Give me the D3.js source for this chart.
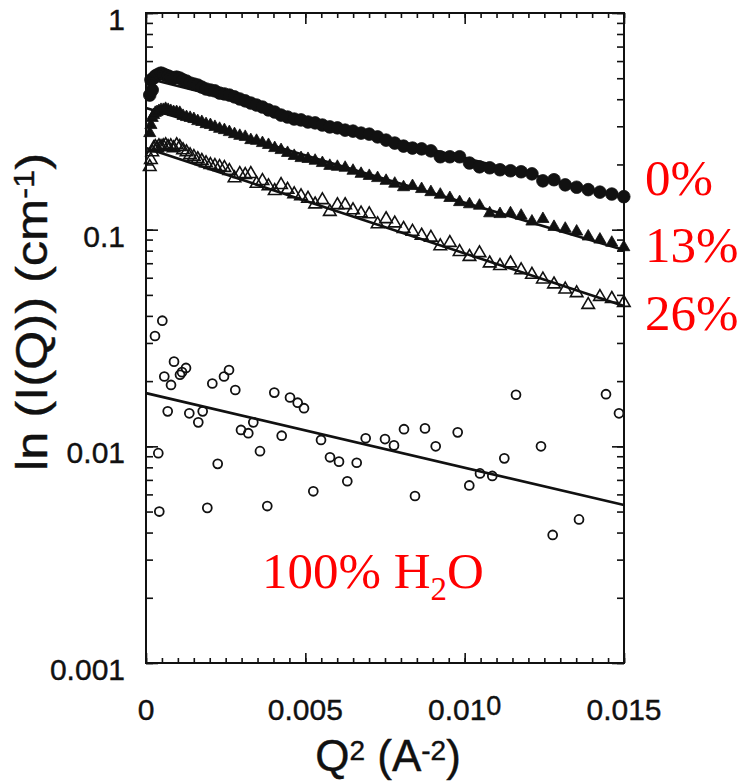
<!DOCTYPE html>
<head>
<meta charset="utf-8">
<title>ln I(Q) vs Q^2</title>
<script src="https://d3js.org/d3.v7.min.js"></script>
<style>
  body{margin:0;background:#fff;}
  text{font-family:'Liberation Sans',Arial,Helvetica,sans-serif;fill:#111;stroke:#111;stroke-width:0.4px;}
  .red{font-family:'Liberation Serif','Times New Roman',serif;fill:#ff0000;stroke:none;}
</style>
</head>
<body>
<script>
// Q^2 grid shared by the three contrast series (A^-2)
var q2 = [0.000118, 0.000154, 0.000195, 0.000240, 0.000291, 0.000346, 0.000406, 0.000471, 0.000541, 0.000615,
          0.000694, 0.000778, 0.000867, 0.000961, 0.001060, 0.001163, 0.001271, 0.001384, 0.001502, 0.001624,
          0.001751, 0.001884, 0.002021, 0.002162, 0.002309, 0.002460, 0.002616, 0.002777, 0.002943, 0.003114,
          0.003289, 0.003469, 0.003654, 0.003844, 0.004039, 0.004238, 0.004442, 0.004651, 0.004865, 0.005084,
          0.005307, 0.005535, 0.005768, 0.006006, 0.006249, 0.006496, 0.006749, 0.007006, 0.007268, 0.007534,
          0.007806, 0.008082, 0.008363, 0.008649, 0.008940, 0.009235, 0.009535, 0.009841, 0.010151, 0.010465,
          0.010785, 0.011109, 0.011438, 0.011772, 0.012111, 0.012455, 0.012803, 0.013156, 0.013514, 0.013877,
          0.014244, 0.014617, 0.014994];

// 0% (filled circles)
var i0 = [0.418, 0.491, 0.441, 0.501, 0.512, 0.517, 0.523, 0.528, 0.523, 0.517,
          0.512, 0.506, 0.501, 0.506, 0.501, 0.491, 0.485, 0.475, 0.470, 0.465,
          0.455, 0.446, 0.441, 0.437, 0.427, 0.423, 0.418, 0.410, 0.401, 0.393,
          0.384, 0.376, 0.368, 0.357, 0.349, 0.338, 0.331, 0.324, 0.321, 0.314,
          0.311, 0.304, 0.298, 0.295, 0.288, 0.285, 0.279, 0.276, 0.268, 0.259,
          0.251, 0.243, 0.238, 0.236, 0.231, 0.217, 0.217, 0.217, 0.203, 0.195,
          0.193, 0.189, 0.187, 0.185, 0.181, 0.168, 0.170, 0.161, 0.157, 0.153,
          0.149, 0.146, 0.142];

// 13% (filled triangles)
var i13 = [0.279, 0.304, 0.328, 0.338, 0.346, 0.349, 0.353, 0.357, 0.357, 0.361,
           0.357, 0.353, 0.349, 0.349, 0.346, 0.335, 0.331, 0.328, 0.324, 0.317,
           0.314, 0.307, 0.304, 0.298, 0.292, 0.288, 0.282, 0.276, 0.271, 0.268,
           0.259, 0.257, 0.251, 0.246, 0.238, 0.233, 0.226, 0.219, 0.214, 0.212,
           0.208, 0.203, 0.197, 0.195, 0.193, 0.187, 0.181, 0.177, 0.173, 0.168,
           0.163, 0.157, 0.159, 0.154, 0.149, 0.145, 0.140, 0.134, 0.131, 0.129,
           0.119, 0.118, 0.119, 0.116, 0.109, 0.112, 0.103, 0.101, 0.098, 0.093,
           0.090, 0.087, 0.083];

// 26% (open triangles)
var i26 = [0.195, 0.210, 0.228, 0.238, 0.241, 0.238, 0.243, 0.241, 0.243, 0.246,
           0.241, 0.243, 0.238, 0.246, 0.241, 0.233, 0.228, 0.221, 0.217, 0.212,
           0.208, 0.203, 0.199, 0.197, 0.195, 0.193, 0.187, 0.173, 0.181, 0.179,
           0.181, 0.163, 0.168, 0.159, 0.151, 0.161, 0.153, 0.146, 0.143, 0.139,
           0.131, 0.137, 0.121, 0.130, 0.130, 0.123, 0.119, 0.118, 0.106, 0.112,
           0.107, 0.101, 0.098, 0.094, 0.092, 0.084, 0.087, 0.079, 0.075, 0.078,
           0.070, 0.068, 0.070, 0.065, 0.062, 0.059, 0.056, 0.053, 0.051, 0.045,
           0.049, 0.048, 0.046];

// 100% H2O (open circles), own Q^2 values
var q2Water = [0.000512, 0.000282, 0.000879, 0.000574, 0.000785, 0.001067, 0.001130, 0.001255, 0.000681, 0.000386,
               0.000417, 0.002081, 0.002448, 0.002605, 0.002802, 0.001359, 0.001779, 0.001641, 0.002250, 0.001924,
               0.002981, 0.003210, 0.003367, 0.003577, 0.003806, 0.004026, 0.004519, 0.004760, 0.004958, 0.004258,
               0.005492, 0.005774, 0.006056, 0.005250, 0.006317, 0.006612, 0.006894, 0.007500, 0.007782, 0.008096,
               0.008755, 0.009091, 0.009781, 0.008441, 0.010481, 0.010867, 0.010145, 0.011244, 0.011611, 0.012395,
               0.012762, 0.013588, 0.014435, 0.014843];
var iWater = [0.0380, 0.0323, 0.0246, 0.0210, 0.0192, 0.0214, 0.0220, 0.0230, 0.0145, 0.0093,
              0.0050, 0.0195, 0.0210, 0.0225, 0.0182, 0.0142, 0.0145, 0.0129, 0.0083, 0.0052,
              0.0119, 0.0115, 0.0129, 0.0095, 0.0053, 0.0177, 0.0168, 0.0159, 0.0150, 0.0112,
              0.0107, 0.0089, 0.0085, 0.0062, 0.0069, 0.0084, 0.0109, 0.0108, 0.0101, 0.0120,
              0.0121, 0.0100, 0.0116, 0.0059, 0.0075, 0.0073, 0.0066, 0.0088, 0.0173, 0.0100,
              0.0039, 0.0046, 0.0174, 0.0142];

// straight-line (Guinier) fits: value at Q^2 = 0 and at Q^2 = 0.015
var fitQ2 = [0, 0.015];
var fitStart = [0.501, 0.364, 0.238, 0.0176];
var fitEnd   = [0.140, 0.0806, 0.0444, 0.00536];

var seriesLabels = ["0%", "13%", "26%"];

var xTickValues = [0, 0.005, 0.010, 0.015];
var xTickLabels = ["0", "0.005", "0.010", "0.015"];
var yTickValues = [0.001, 0.01, 0.1, 1];
var yTickLabels = ["0.001", "0.01", "0.1", "1"];

var width = 741, height = 781;
// plot frame (note: "top" is reserved on window, so use plot* names)
var plotL = 146, plotR = 624, plotT = 13, plotB = 663;

var svg = d3.select("body").append("svg")
  .attr("width", width)
  .attr("height", height);

var x = d3.scaleLinear().domain([0, 0.015]).range([plotL, plotR]);
var y = d3.scaleLog().domain([0.001, 1]).range([plotB, plotT]);

// fit lines first, markers on top
var line = d3.line().x(function(d){ return x(d[0]); }).y(function(d){ return y(d[1]); });
fitStart.forEach(function(s, i){
  svg.append("path")
    .attr("d", line([[fitQ2[0], s], [fitQ2[1], fitEnd[i]]]))
    .attr("stroke", "#111").attr("stroke-width", 2.6).attr("fill", "none");
});

var circ = d3.symbol().type(d3.symbolCircle);
var tri = d3.symbol().type(d3.symbolTriangle);

function plot(vals, xs, gen, size, filled, sw){
  svg.append("g").selectAll("path")
    .data(vals)
    .enter().append("path")
    .attr("transform", function(d, i){ return "translate(" + x(xs[i]) + "," + y(d) + ")"; })
    .attr("d", gen.size(size)())
    .attr("fill", filled ? "#111" : "none")
    .attr("stroke", "#111")
    .attr("stroke-width", sw);
}
plot(i0, q2, circ, 125, true, 0.8);
plot(i13, q2, tri, 64, true, 0.8);
plot(i26, q2, tri, 68, false, 1.6);
plot(iWater, q2Water, circ, 62, false, 1.8);

// ticks, all pointing inward
function styleTicks(g){
  g.select(".domain").remove();
  g.selectAll("line").attr("stroke", "#111").attr("stroke-width", 1.6);
}
var xMinor = d3.range(0, 0.01501, 0.0005);
svg.append("g").attr("transform", "translate(0," + plotB + ")")
  .call(d3.axisBottom(x).tickValues(xMinor).tickSize(-5).tickFormat("")).call(styleTicks);
svg.append("g").attr("transform", "translate(0," + plotB + ")")
  .call(d3.axisBottom(x).tickValues(xTickValues).tickSize(-10).tickFormat("")).call(styleTicks);
svg.append("g").attr("transform", "translate(0," + plotT + ")")
  .call(d3.axisTop(x).tickValues(xMinor).tickSize(-5).tickFormat("")).call(styleTicks);
svg.append("g").attr("transform", "translate(0," + plotT + ")")
  .call(d3.axisTop(x).tickValues(xTickValues).tickSize(-11).tickFormat("")).call(styleTicks);

var yMinor = y.ticks();
svg.append("g").attr("transform", "translate(" + plotL + ",0)")
  .call(d3.axisLeft(y).tickValues(yMinor).tickSize(-7).tickFormat("")).call(styleTicks);
svg.append("g").attr("transform", "translate(" + plotL + ",0)")
  .call(d3.axisLeft(y).tickValues(yTickValues).tickSize(-12).tickFormat("")).call(styleTicks);
svg.append("g").attr("transform", "translate(" + plotR + ",0)")
  .call(d3.axisRight(y).tickValues(yMinor).tickSize(-7).tickFormat("")).call(styleTicks);
svg.append("g").attr("transform", "translate(" + plotR + ",0)")
  .call(d3.axisRight(y).tickValues(yTickValues).tickSize(-12).tickFormat("")).call(styleTicks);

// frame
svg.append("rect")
  .attr("x", plotL).attr("y", plotT)
  .attr("width", plotR - plotL).attr("height", plotB - plotT)
  .attr("fill", "none").attr("stroke", "#111").attr("stroke-width", 2);

// tick labels
svg.append("g").selectAll("text")
  .data(xTickLabels)
  .enter().append("text")
  .attr("x", function(d, i){ return x(xTickValues[i]); })
  .attr("y", 720)
  .attr("text-anchor", "middle")
  .attr("font-size", 30)
  .each(function(d){
    var t = d3.select(this);
    if (d === "0.010") { // the last 0 sits raised and smaller in the original
      t.append("tspan").text("0.01");
      t.append("tspan").attr("font-size", 27).attr("dy", -5).text("0");
    } else {
      t.text(d);
    }
  });

svg.append("g").selectAll("text")
  .data(yTickLabels)
  .enter().append("text")
  .attr("x", 125)
  .attr("y", function(d, i){ return y(yTickValues[i]) + 17; })
  .attr("text-anchor", "end")
  .attr("font-size", 30)
  .text(function(d){ return d; });

// axis titles
var xt = svg.append("text")
  .attr("x", 388).attr("y", 771)
  .attr("text-anchor", "middle")
  .attr("font-size", 44);
xt.append("tspan").text("Q");
xt.append("tspan").attr("font-size", 28).attr("dy", -11).text("2");
xt.append("tspan").attr("dy", 11).text(" (A");
xt.append("tspan").attr("font-size", 28).attr("dy", -11).text("-2");
xt.append("tspan").attr("dy", 11).text(")");

// the scanned y title is stretched along its length
var yt = svg.append("text")
  .attr("transform", "translate(47,312) rotate(-90)")
  .attr("text-anchor", "middle")
  .attr("font-size", 45)
  .attr("textLength", 318)
  .attr("lengthAdjust", "spacingAndGlyphs");
yt.append("tspan").text("ln (I(Q)) (cm");
yt.append("tspan").attr("font-size", 29).attr("dy", -13).text("-1");
yt.append("tspan").attr("dy", 13).text(")");

// red annotations
var labelY = [195, 262, 330];
svg.append("g").selectAll("text")
  .data(seriesLabels)
  .enter().append("text")
  .attr("class", "red")
  .attr("x", 645)
  .attr("y", function(d, i){ return labelY[i]; })
  .attr("font-size", 51)
  .text(function(d){ return d; });

var w = svg.append("text").attr("class", "red")
  .attr("x", 262).attr("y", 588).attr("font-size", 51);
w.append("tspan").text("100% H");
w.append("tspan").attr("font-size", 33).attr("dy", 12).text("2");
w.append("tspan").attr("dy", -12).text("O");
</script>
</body>
